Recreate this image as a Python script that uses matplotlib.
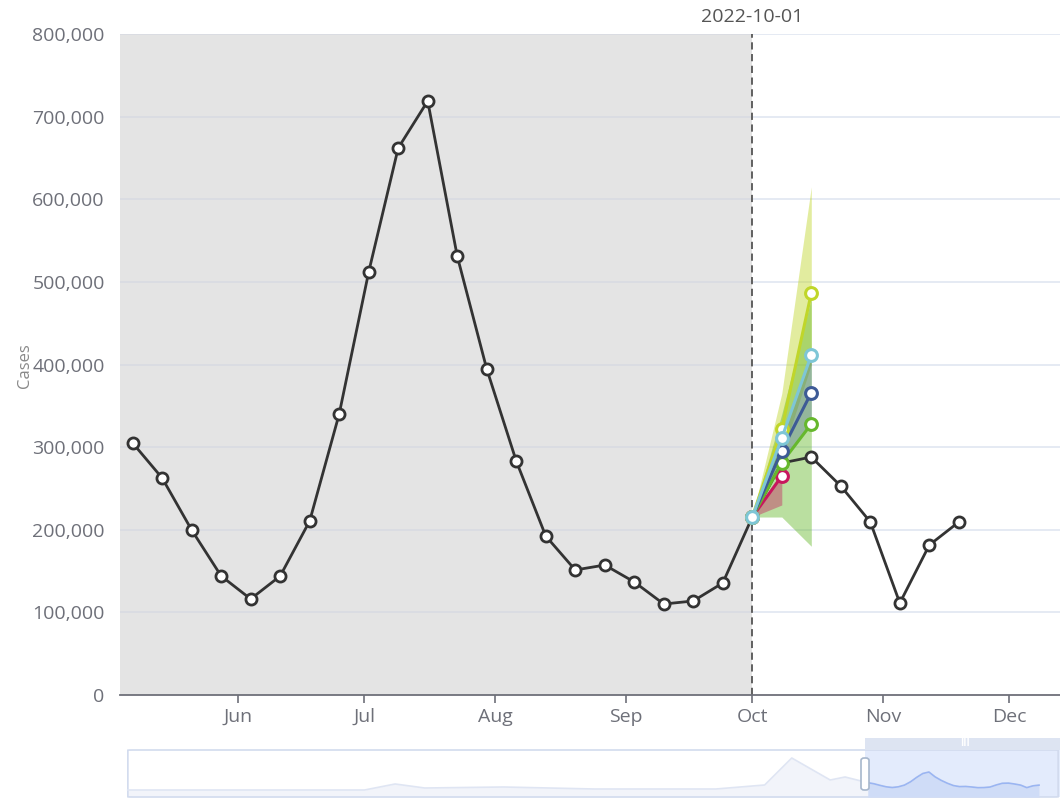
import matplotlib
matplotlib.use('Agg')
import matplotlib.pyplot as plt
import matplotlib.dates as mdates
from matplotlib.patches import FancyBboxPatch, Rectangle
from matplotlib.ticker import FuncFormatter
import numpy as np
import pandas as pd

plt.rcParams['font.family'] = ['Open Sans', 'DejaVu Sans']

# ---- data ----
dates = pd.date_range('2022-05-07', '2022-11-19', freq='7D')
cases = [305000, 262600, 199700, 144000, 116200, 144000, 210600, 340100,
         512000, 662000, 718900, 531300, 394600, 283200, 192400, 151300,
         157300, 136800, 110100, 113800, 135600, 215400, 280800, 288000,
         252900, 209400, 111300, 181500, 209400]

fc_dates = pd.to_datetime(['2022-10-01', '2022-10-08', '2022-10-15'])
fc_yellow = [215400, 322000, 486500]
fc_lightblue = [215400, 311000, 411500]
fc_darkblue = [215400, 295700, 365900]
fc_green = [215400, 281200, 328000]
fc_red = [215400, 265000]

band_yellow_lo = [215400, 290000, 400000]
band_yellow_hi = [215400, 365000, 615000]
band_green_lo = [215400, 215400, 180000]
band_green_hi = [215400, 340000, 480000]
band_darkblue_lo = [215400, 280000, 330000]
band_darkblue_hi = [215400, 310000, 410000]
band_red_lo = [215400, 230000]
band_red_hi = [215400, 270000]

# coarse overview of the full series, for the zoom slider shadow
overview_dates = pd.to_datetime(['2020-01-11', '2020-10-08', '2020-11-12', '2020-12-16',
                                 '2021-03-16', '2021-06-28', '2021-11-14', '2022-01-09',
                                 '2022-02-09', '2022-03-05', '2022-03-25', '2022-04-11'])
overview_vals = [20000, 20000, 254000, 98000, 137000, 59000, 59000, 215000,
                 1265000, 798000, 409000, 526000]

split_date = pd.Timestamp('2022-10-01')
x_start, x_end = pd.Timestamp('2022-05-04'), pd.Timestamp('2022-12-13')

c_yellow = '#c0d62a'
c_lightblue = '#7ec6d6'
c_darkblue = '#3d5a96'
c_green = '#66b82c'
c_red = '#c8175d'
c_black = '#333333'
c_label = '#6e7079'

fig = plt.figure(figsize=(10.6, 7.98), dpi=100)
ax = fig.add_axes([120/1060, 1-695/798, 940/1060, 661/798])

# shaded history region
ax.axvspan(x_start, split_date, color='#e4e4e4', zorder=0, lw=0)
grid_vals = range(100000, 800001, 100000)
ax.hlines(grid_vals, split_date, x_end, color='#e0e6f1', lw=1.2, zorder=0.5)
ax.hlines(grid_vals, x_start, split_date, color='#d9dbe2', lw=1.2, zorder=0.5)
ax.axvline(split_date, color='#555555', lw=1.3, ls=(0, (4, 2.5)), zorder=1)

# forecast bands
ax.fill_between(fc_dates, band_yellow_lo, band_yellow_hi, color=c_yellow, alpha=0.45, lw=0, zorder=1.2)
ax.fill_between(fc_dates, band_green_lo, band_green_hi, color=c_green, alpha=0.45, lw=0, zorder=1.3)
ax.fill_between(fc_dates, band_darkblue_lo, band_darkblue_hi, color=c_darkblue, alpha=0.3, lw=0, zorder=1.4)
ax.fill_between(fc_dates[:2], band_red_lo, band_red_hi, color=c_red, alpha=0.4, lw=0, zorder=1.5)

# observed cases
ax.plot(dates, cases, '-o', color=c_black, lw=2, ms=8, mfc='white', mec=c_black, mew=2, zorder=3)

# forecasts
mk = dict(marker='o', lw=2.2, ms=8.5, mfc='white', mew=2.2, zorder=4)
ax.plot(fc_dates[:2], fc_red, color=c_red, mec=c_red, **mk)
ax.plot(fc_dates, fc_green, color=c_green, mec=c_green, **mk)
ax.plot(fc_dates, fc_darkblue, color=c_darkblue, mec=c_darkblue, **mk)
ax.plot(fc_dates, fc_yellow, color=c_yellow, mec=c_yellow, **mk)
ax.plot(fc_dates, fc_lightblue, color=c_lightblue, mec=c_lightblue, **mk)

ax.set_xlim(x_start, x_end)
ax.set_ylim(0, 800000)
ax.set_yticks(range(0, 800001, 100000))
ax.yaxis.set_major_formatter(FuncFormatter(lambda v, p: f'{int(v):,}'))
ax.xaxis.set_major_locator(mdates.MonthLocator())
ax.xaxis.set_major_formatter(mdates.DateFormatter('%b'))
for s in ['top', 'right', 'left']:
    ax.spines[s].set_visible(False)
ax.spines['bottom'].set_color(c_label)
ax.spines['bottom'].set_linewidth(1.3)
ax.tick_params(axis='y', length=0, labelsize=14, labelcolor=c_label, pad=11)
ax.tick_params(axis='x', length=6, width=1.2, color=c_label, labelsize=14, labelcolor=c_label, pad=3)
ax.set_xticks([d for d in ax.get_xticks() if mdates.num2date(d).month != 5])

ax.text(split_date, 1.012, '2022-10-01', transform=ax.get_xaxis_transform(),
        ha='center', va='bottom', fontsize=14, color='#555555')
fig.text(25/1060, 1-366/798, 'Cases', rotation=90, ha='center', va='center',
         fontsize=12, color='#888888')

# ---- zoom slider ----
sl = fig.add_axes([126/1060, 1/798, 934/1060, 47/798])
sl.set_xlim(pd.Timestamp('2020-01-09'), x_end)
sl.set_ylim(-252000, 1576000)
sl.axis('off')
ov_x = list(overview_dates) + list(dates)
ov_y = overview_vals + cases
sl.fill_between(ov_x, -252000, ov_y, color='#f2f4fa', lw=0, zorder=1)
sl.plot(ov_x, ov_y, color='#dfe5f3', lw=1.2, zorder=2)
sl.axvspan(x_start, x_end, color='#e3ebfc', lw=0, zorder=0.5)
sel = [d >= x_start for d in ov_x]
sl.fill_between(ov_x, -252000, ov_y, where=sel, color='#cfdcf7', lw=0, zorder=1.5)
sl.plot([d for d, s in zip(ov_x, sel) if s], [v for v, s in zip(ov_y, sel) if s],
        color='#9ab5f2', lw=1.2, zorder=2.5)
sl.add_patch(FancyBboxPatch((0.002, 0.0), 0.996, 1.0, boxstyle='round,pad=0,rounding_size=0.005',
                            transform=sl.transAxes, fill=False, ec='#d2dbee', lw=1.2, clip_on=False))
fig.patches.append(Rectangle((865/1060, 1-750/798), 195/1060, 12/798, transform=fig.transFigure,
                             color='#dde4f2', lw=0))
fig.text(965/1060, 1-744/798, 'III', ha='center', va='center', fontsize=7, color='white',
         fontweight='bold')
fig.patches.append(FancyBboxPatch((861/1060, 1-790/798), 8/1060, 32/798,
                                  boxstyle='round,pad=0,rounding_size=0.003',
                                  transform=fig.transFigure, fc='white', ec='#a7b7cc', lw=1.2))

plt.savefig('out.png', dpi=100)
